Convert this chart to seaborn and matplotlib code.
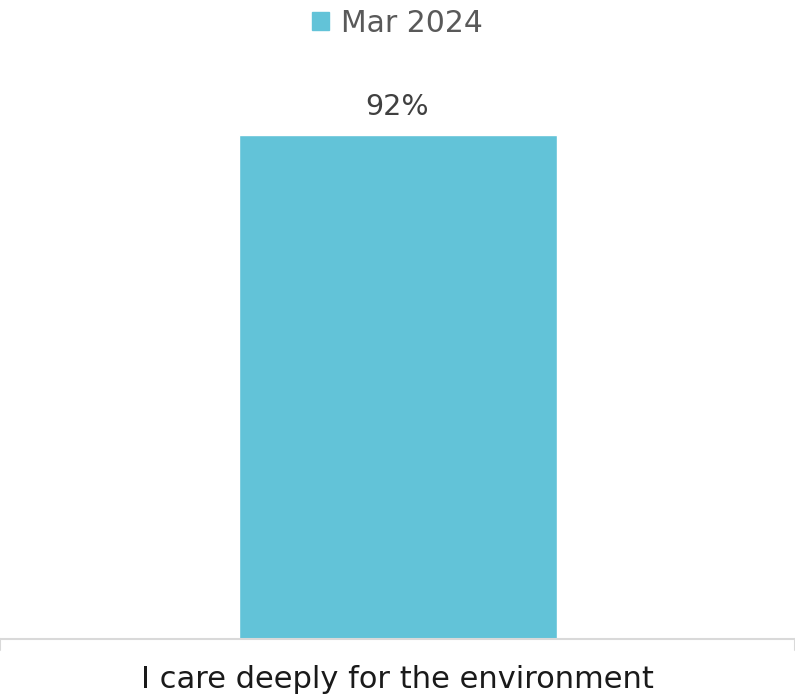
import pandas as pd
import seaborn as sns
import matplotlib.pyplot as plt
from matplotlib.patches import Patch

categorias = ["I care deeply for the environment"]
serie = "Mar 2024"
valores = [0.92]

df = pd.DataFrame({"categoria": categorias, "valor": valores, "serie": [serie] * len(categorias)})

sns.set_style("white")
plt.rcParams['font.family'] = ['DejaVu Sans']

cor_barra = "#62C3D8"
cor_eixo = "#D9D9D9"

fig = plt.figure(figsize=(7.95, 6.99), dpi=100)
ax = fig.add_axes([0, 1 - 639 / 699, 1, (639 - 91) / 699])

sns.barplot(data=df, x="categoria", y="valor", color=cor_barra, width=0.4, ax=ax, saturation=1)

ax.set_ylim(0, 1)
ax.set_xlim(-0.5, 0.5)
ax.set_xlabel("")
ax.set_ylabel("")
ax.set_yticks([])

for lado in ["top", "right", "left"]:
    ax.spines[lado].set_visible(False)
ax.spines["bottom"].set_color(cor_eixo)
ax.spines["bottom"].set_linewidth(1.5)

# traços nas pontas do eixo
ax.set_xticks([-0.5, 0.0, 0.5])
ax.set_xticklabels(["", categorias[0], ""], fontsize=22, color="#1a1a1a")
ax.tick_params(axis="x", length=0, pad=19)
for x in [-0.4995, 0.4995]:
    ax.plot([x, x], [0, -0.02], color=cor_eixo, lw=1.5, clip_on=False)

for barra, v in zip(ax.patches, valores):
    ax.text(barra.get_x() + barra.get_width() / 2, v + 0.025, f"{v:.0%}",
            ha="center", va="bottom", fontsize=20.5, color="#404040")

ax.legend(handles=[Patch(color=cor_barra, label=serie)], loc="upper center",
          bbox_to_anchor=(0.5, 636 / 548), frameon=False, fontsize=21.5,
          labelcolor="#595959", handlelength=0.55, handleheight=0.55, handletextpad=0.4,
          borderaxespad=0, borderpad=0.2)

fig.savefig("out.png", dpi=100)
